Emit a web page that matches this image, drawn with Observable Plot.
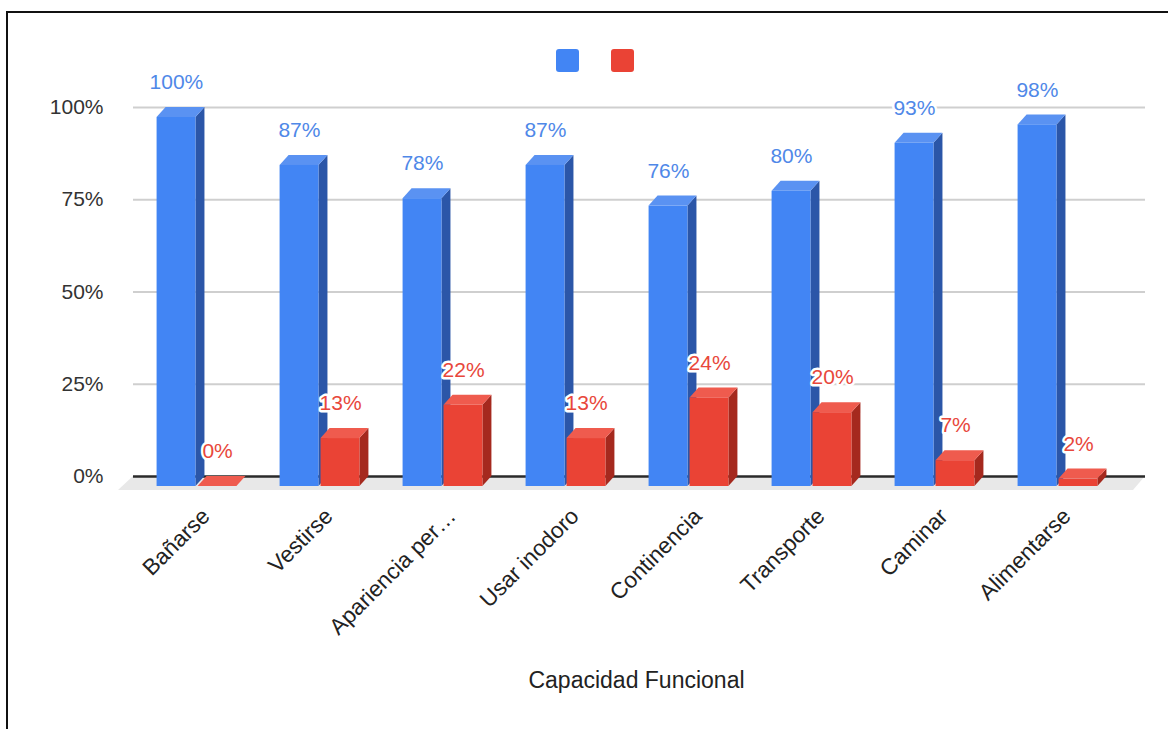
<!DOCTYPE html>
<html>
<head>
<meta charset="utf-8">
<script src="https://cdn.jsdelivr.net/npm/d3@7"></script>
<script src="https://cdn.jsdelivr.net/npm/@observablehq/plot@0.6"></script>
<style>
  body { margin: 0; background: #fff; font-family: "Liberation Sans", Arial, sans-serif; }
  #wrap { position: relative; width: 1168px; height: 729px; overflow: hidden; background: #fff; }
  #frame { position: absolute; left: 6px; top: 11px; width: 1300px; height: 900px;
           border-top: 2px solid #111; border-left: 2px solid #111; }
  #legend { position: absolute; top: 49px; left: 556px; display: flex; gap: 32px; z-index: 2; }
  .sw { width: 23px; height: 23px; border-radius: 3px; }
  #chart { position: absolute; left: 0; top: 0; z-index: 1; }
</style>
</head>
<body>
<div id="wrap">
  <div id="frame"></div>
  <div id="legend"></div>
  <div id="chart"></div>
</div>
<script>
// ---- data ----
const categories = ["Bañarse", "Vestirse", "Apariencia per…", "Usar inodoro", "Continencia", "Transporte", "Caminar", "Alimentarse"];
const series = ["Serie 1", "Serie 2"];
const blueValues = [1.00, 0.87, 0.78, 0.87, 0.76, 0.80, 0.93, 0.98];
const redValues  = [0.00, 0.13, 0.22, 0.13, 0.24, 0.20, 0.07, 0.02];
const yTicks = [0, 0.25, 0.5, 0.75, 1];
const axisTitle = "Capacidad Funcional";

// ---- styles ----
const frontColors = ["#4285f4", "#ea4335"];
const sideColors  = ["#2b56a8", "#a5291e"];
const topColors   = ["#5a92f2", "#ef5b4e"];
const labelColors = ["#4f88e8", "#e8473b"];
const FONT = "'Liberation Sans', Arial, sans-serif";
const DX = 9, DY = 10;   // 3D depth offset in px

const rows = [];
categories.forEach((c, i) => {
  rows.push({cat: c, s: 0, value: blueValues[i]});
  rows.push({cat: c, s: 1, value: redValues[i]});
});

// legend
const legend = document.getElementById("legend");
series.forEach((s, i) => {
  const d = document.createElement("div");
  d.className = "sw";
  d.style.background = frontColors[i];
  d.title = s;
  legend.appendChild(d);
});

function layout(x) {
  const bw = x.bandwidth();
  const barW = bw * 0.316, gap = bw * 0.017;
  return {bw, barW, gap, off: (bw - (2 * barW + gap)) / 2 - DX};
}

function floorMark(index, scales) {
  const {x, y} = scales;
  const [r0, r1] = x.range();
  const y0 = y(0);
  const g = d3.create("svg:g");
  const fl = r0 - 9, fr = r1 + 15;
  g.append("polygon")
    .attr("points", [[fl, y0], [fr, y0], [fr - 12, y0 + 14], [fl - 15, y0 + 14]].map(p => p.join(",")).join(" "))
    .attr("fill", "#e8e8e8");
  return g.node();
}

function bars3d(index, scales) {
  const {x, y} = scales;
  const L = layout(x);
  const y0 = y(0);
  const g = d3.create("svg:g");
  const poly = (pts, fill) => g.append("polygon")
    .attr("points", pts.map(p => p.join(",")).join(" ")).attr("fill", fill);
  for (const r of rows) {
    const xl = x(r.cat) + L.off + r.s * (L.barW + L.gap);
    const xr = xl + L.barW;
    const yt = y(r.value) + DY, yb = y0 + DY;
    poly([[xr, yt], [xr + DX, yt - DY], [xr + DX, yb - DY], [xr, yb]], sideColors[r.s]);
    poly([[xl, yt], [xr, yt], [xr + DX, yt - DY], [xl + DX, yt - DY]], topColors[r.s]);
    g.append("rect").attr("x", xl).attr("y", yt).attr("width", L.barW).attr("height", Math.max(0, yb - yt))
      .attr("fill", frontColors[r.s]);
  }
  return g.node();
}

// value-label horizontal offsets relative to band centre (front-face centres)
const bandW = (1168 - 142 - 38) / categories.length;
const barWpx = bandW * 0.316, gapPx = bandW * 0.017;
const offBlue = -(2 * barWpx + gapPx) / 2 - DX + barWpx / 2;
const offRed = offBlue + barWpx + gapPx;

const chart = Plot.plot({
  width: 1168,
  height: 729,
  marginTop: 107,
  marginBottom: 253,
  marginLeft: 142,
  marginRight: 38,
  style: {fontFamily: FONT, background: "transparent", overflow: "visible"},
  x: {type: "band", domain: categories, padding: 0, axis: null},
  y: {domain: [0, 1], axis: null},
  marks: [
    floorMark,
    Plot.ruleY(yTicks.filter(d => d > 0), {y: d => d, stroke: "#cfcfcf", strokeWidth: 2, insetLeft: -9, insetRight: -15}),
    Plot.ruleY([0], {y: d => d, stroke: "#2a2a2a", strokeWidth: 2.5, insetLeft: -9, insetRight: -15}),
    Plot.text(yTicks, {y: d => d, frameAnchor: "left", dx: -39, textAnchor: "end",
      text: d => `${Math.round(d * 100)}%`, fontSize: 21, fill: "#333"}),
    bars3d,
    Plot.text(rows.filter(r => r.s === 0), {x: "cat", y: "value", dx: offBlue, dy: -25,
      text: d => `${Math.round(d.value * 100)}%`, fontSize: 21, fill: labelColors[0],
      stroke: "white", strokeWidth: 5}),
    Plot.text(rows.filter(r => r.s === 1), {x: "cat", y: "value", dx: offRed, dy: -25,
      text: d => `${Math.round(d.value * 100)}%`, fontSize: 21, fill: labelColors[1],
      stroke: "white", strokeWidth: 5}),
    Plot.text(categories, {x: d => d, y: () => 0, dy: 36, rotate: -45, textAnchor: "end",
      fontSize: 22.5, fill: "#222"}),
    Plot.text([axisTitle], {frameAnchor: "bottom", dy: 211, text: d => d, fontSize: 23, fill: "#222"})
  ]
});
document.getElementById("chart").appendChild(chart);
</script>
</body>
</html>
